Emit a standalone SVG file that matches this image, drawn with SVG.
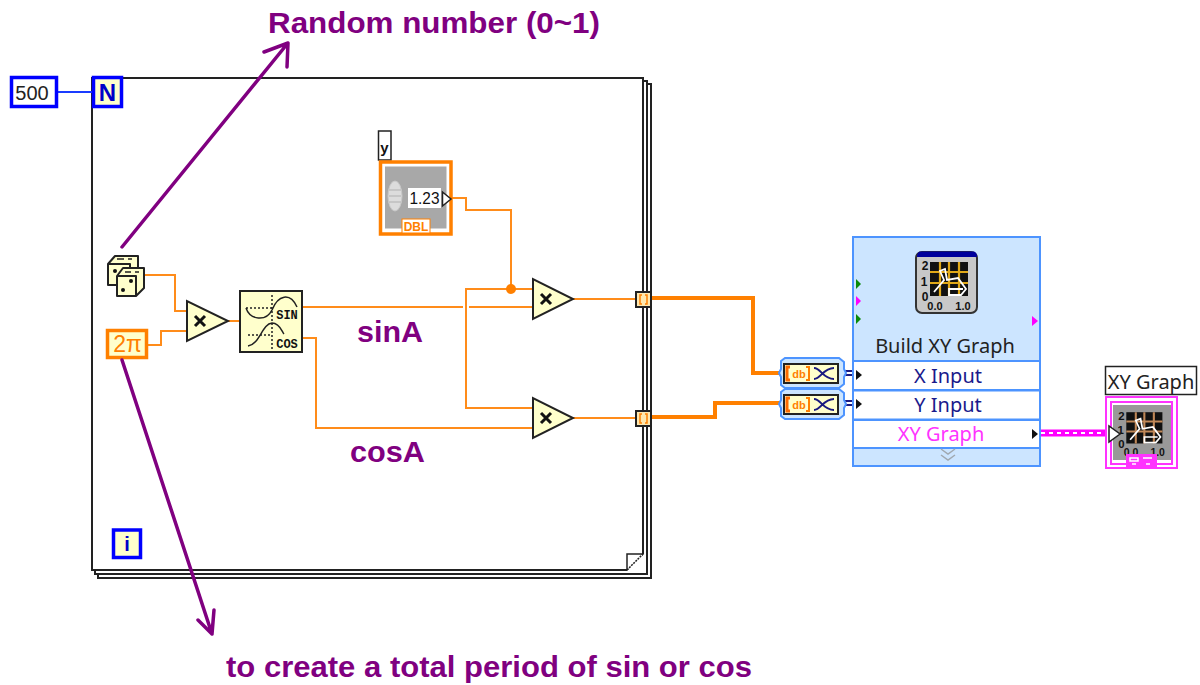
<svg xmlns="http://www.w3.org/2000/svg" width="1200" height="685" viewBox="0 0 1200 685">
<style>
text{font-family:"Liberation Sans",Arial,sans-serif}
.note{fill:#800080;font-weight:bold;font-size:30px}
.ui{font-family:"Noto Sans","Open Sans",sans-serif;font-size:20px;text-anchor:middle}
.w{fill:none;stroke:#ff8c1a;stroke-width:2}
.wt{fill:none;stroke:#ff8000;stroke-width:4}
.pa{fill:none;stroke:#800080;stroke-width:3.5;stroke-linecap:round;stroke-linejoin:round}
.mul{fill:#ffffcc;stroke:#222;stroke-width:2}
.x{fill:none;stroke:#111;stroke-width:3}
.fr{fill:#fff;stroke:#222;stroke-width:2}
.row{fill:#fff;stroke:#4d94ff;stroke-width:2}
.tun{fill:#ffe9b0;stroke:#222;stroke-width:2}
.dot{fill:none;stroke:#222;stroke-width:1.5;stroke-dasharray:2 2}
.arr{fill:#111}
.hex{fill:#cce5ff;stroke:#4d94ff;stroke-width:2}
.die{fill:#ffffcc;stroke:#222;stroke-width:2;stroke-linejoin:round}
.pip{fill:#111}
.dig{font-size:12px;font-weight:bold;text-anchor:middle;fill:#111}
</style>
<defs>
<g id="graphIcon">
<rect x="14" y="10" width="38" height="34" fill="#111"/>
<path d="M14 20H52M14 31H52M24 10V44M33 10V44M43 10V44" stroke="currentColor" stroke-width="2.200"/>
<path d="M18 40L28 28L24 19L29 17L31 28L42 26L50 37L45 43H33L33 37H47" fill="none" stroke="#fff" stroke-width="1.800"/>
<text class="dig" x="9" y="18">2</text>
<text class="dig" x="8" y="34">1</text>
<text class="dig" x="9" y="49">0</text>
<text class="dig" x="19" y="58" style="font-size:11px">0.0</text>
<text class="dig" x="47" y="58" style="font-size:11px">1.0</text>
</g>
<g id="a2m">
<path class="hex" d="M0 3L4 0H58L63 4V11L65 15L63 19V26L58 30H4L0 27V19L-2 15L0 11Z"/>
<rect x="3" y="6" width="54" height="19" fill="#ffffcc" stroke="#222" stroke-width="2"/>
<path d="M9 9H6V22H9" fill="none" stroke="#ff6a00" stroke-width="3"/>
<text x="18" y="20" font-size="11" font-weight="bold" fill="#ff8000" text-anchor="middle">db</text>
<path d="M25 9H28V22H25" fill="none" stroke="#ff8000" stroke-width="2"/>
<path d="M33 10C40 10 42 21 53 21M33 21C40 21 42 10 53 10" fill="none" stroke="#1a1a80" stroke-width="2"/>
</g>
</defs>
<rect width="1200" height="685" fill="#fff"/>

<g id="loop">
<rect class="fr" x="98" y="84" width="553" height="494"/>
<rect class="fr" x="95" y="81" width="552" height="493"/>
<rect class="fr" x="92" y="78" width="551" height="492"/>
<path d="M627 571L644 554V571Z" fill="#fff"/>
<path d="M627 570V554H643" fill="none" stroke="#222" stroke-width="1.500"/>
<path d="M627 570L643 554" fill="none" stroke="#222" stroke-width="1.500" stroke-dasharray="2 1"/>
</g>

<g id="connectors">
<path d="M58 92H92" fill="none" stroke="#1a3cff" stroke-width="2"/>
<path class="w" d="M145 275H175V311H187"/>
<path class="w" d="M148 345H161V331H187"/>
<path class="w" d="M228 321H240"/>
<path class="w" d="M302 307H463M469 307H533"/>
<path class="w" d="M302 338H316V428H533"/>
<path class="w" d="M533 289H466V408H533"/>
<path class="w" d="M452 198H466V210H511V289"/>
<circle cx="511" cy="289" r="5" fill="#ff8000"/>
<path class="w" d="M573 299H636"/>
<path class="w" d="M573 418H636"/>
<path class="wt" d="M652 298H753V373H781"/>
<path class="wt" d="M652 417H715V403H781"/>
<path d="M843 371H855M843 375H855M843 401H855M843 405H855" fill="none" stroke="#1a1a80" stroke-width="2"/>
<path d="M1041 433H1106" fill="none" stroke="#ff00ff" stroke-width="7"/>
<path d="M1041 433H1106" fill="none" stroke="#fff" stroke-width="2" stroke-dasharray="4 4"/>
</g>

<g id="count"><rect x="11.500" y="77.500" width="45" height="29" fill="#fff" stroke="#0000ff" stroke-width="3.500"/><text x="32" y="100" font-size="20" text-anchor="middle" fill="#222">500</text></g>
<g id="n"><rect x="93.500" y="77.500" width="28" height="29" fill="#ffffcc" stroke="#0000ff" stroke-width="3.500"/><text x="107.500" y="101" font-size="24" font-weight="bold" text-anchor="middle" fill="#0000c8">N</text></g>
<g id="iter"><rect x="113.500" y="530" width="27" height="27.500" fill="#ffffcc" stroke="#0000ff" stroke-width="3.500"/><text x="127" y="551" font-size="20" font-weight="bold" text-anchor="middle" fill="#0000c8">i</text></g>

<g id="dice">
<path class="die" d="M108 264L115 256H138V276L130 285H108Z"/>
<path class="die" d="M108 264H130V285"/>
<path d="M117 259H124M128 259H132" stroke="#222" stroke-width="1.500"/>
<path class="die" d="M117 276L123 268H144V288L136 296H117Z"/>
<path class="die" d="M117 276H136V296"/>
<path d="M125 272H131M135 272H139" stroke="#222" stroke-width="1.500"/>
<circle class="pip" cx="115" cy="271" r="2"/><circle class="pip" cx="131" cy="281" r="2"/><circle class="pip" cx="123" cy="290" r="2"/>
</g>
<g id="twopi"><rect x="107.500" y="330.500" width="39" height="27" fill="#ffffcc" stroke="#ff8000" stroke-width="3.500"/><text x="127.500" y="352" font-size="23" text-anchor="middle" fill="#ff8000">2π</text></g>
<g id="mul1"><path class="mul" d="M187 301V341L228 321Z"/><path class="x" d="M195 316L205 326M205 316L195 326"/></g>
<g id="sincos">
<rect x="240" y="291" width="62" height="61" fill="#ffffcc" stroke="#222" stroke-width="2"/>
<path class="dot" d="M246 308H272M272 295V349M248 335H272"/>
<path d="M246 308C250 320 266 322 272 310C278 295 290 292 297 307" fill="none" stroke="#222" stroke-width="1.500"/>
<path d="M248 346C260 344 262 324 272 323C280 323 282 332 284 334" fill="none" stroke="#222" stroke-width="1.500"/>
<text x="287" y="319" font-size="12" font-weight="bold" text-anchor="middle" fill="#111" style="font-family:'Liberation Mono',monospace">SIN</text>
<text x="287" y="348" font-size="12" font-weight="bold" text-anchor="middle" fill="#111" style="font-family:'Liberation Mono',monospace">COS</text>
</g>
<g id="control">
<rect x="378.500" y="131" width="12.500" height="29" fill="#fff" stroke="#222" stroke-width="1.500"/>
<text x="384.500" y="153" font-size="15" font-weight="bold" text-anchor="middle" fill="#111">y</text>
<rect x="380.500" y="162" width="70.500" height="72" fill="#fff" stroke="#ff8000" stroke-width="3.500"/>
<rect x="384.500" y="166" width="62.500" height="63" fill="#a8a8a8" stroke="#fff" stroke-width="1"/>
<ellipse cx="395" cy="196" rx="7" ry="15" fill="#dcdcdc" stroke="#c8c8c8"/>
<path d="M389 190H401M389 196H401M389 202H401" stroke="#b0b0b0"/>
<rect x="408" y="188" width="33" height="20" fill="#fff"/>
<text x="424.500" y="204" font-size="17" text-anchor="middle" fill="#111" textLength="30" lengthAdjust="spacingAndGlyphs">1.23</text>
<path d="M442.500 192V206L451 199Z" fill="#fff" stroke="#222" stroke-width="1.500"/>
<rect x="402" y="219" width="28" height="14" fill="#fff" stroke="#ff8000"/>
<text x="416" y="231" font-size="12" font-weight="bold" text-anchor="middle" fill="#ff8000">DBL</text>
</g>
<g id="mul2"><path class="mul" d="M533 279V319L573 299Z"/><path class="x" d="M541 294L551 304M551 294L541 304"/></g>
<g id="mul3"><path class="mul" d="M533 398V438L573 418Z"/><path class="x" d="M541 413L551 423M551 413L541 423"/></g>
<g id="tunnel1"><rect class="tun" x="636" y="292" width="15" height="15"/><path d="M642 295H640V304H642M645 295H647V304H645" fill="none" stroke="#ff8000" stroke-width="1.500"/></g>
<g id="tunnel2"><rect class="tun" x="636" y="411" width="15" height="15"/><path d="M642 414H640V423H642M645 414H647V423H645" fill="none" stroke="#ff8000" stroke-width="1.500"/></g>
<g id="a2m1"><use href="#a2m" x="781" y="358"/></g>
<g id="a2m2"><use href="#a2m" x="781" y="389"/></g>

<g id="build">
<rect x="853" y="237" width="187" height="229" fill="#cce5ff" stroke="#4d94ff" stroke-width="2"/>
<rect x="916" y="252" width="61" height="61" rx="6" fill="#c8c8c8" stroke="#333" stroke-width="2"/>
<g color="#e0a818"><use href="#graphIcon" x="916" y="252"/></g>
<path d="M917 257Q917 251.500 921 251.500H973Q977 251.500 977 257Z" fill="#00009c"/>
<path d="M856 279V289L861 284Z" fill="#0a8a0a"/><path d="M856 296V306L861 301Z" fill="#ff00ff"/><path d="M856 314V324L861 319Z" fill="#0a8a0a"/><path d="M1032 316V326L1038 321Z" fill="#ff00ff"/>
<text class="ui" x="945" y="353" fill="#222">Build XY Graph</text>
<rect class="row" x="853" y="361" width="187" height="29"/>
<rect class="row" x="853" y="390.500" width="187" height="29"/>
<rect class="row" x="853" y="420" width="187" height="28"/>
<path class="arr" d="M856 370V380L862 375Z"/><path class="arr" d="M856 399V409L862 404Z"/><path class="arr" d="M1032 429V439L1038 434Z"/>
<text class="ui" x="948" y="383" fill="#1a1a8c">X Input</text>
<text class="ui" x="948" y="412" fill="#1a1a8c">Y Input</text>
<text class="ui" x="941" y="441" fill="#ff33ff">XY Graph</text>
<path d="M941 449L948 454L955 449M941 455L948 460L955 455" fill="none" stroke="#a0a8b0" stroke-width="1.500"/>
</g>

<g id="xygraph">
<rect x="1105.500" y="366.500" width="91" height="28" fill="#fff" stroke="#222" stroke-width="1.500"/>
<text class="ui" x="1151" y="389" fill="#222">XY Graph</text>
<rect x="1106" y="397" width="71" height="71" fill="#fff" stroke="#ff33ff" stroke-width="2"/>
<rect x="1111" y="402" width="61" height="62" fill="#fff" stroke="#ff33ff" stroke-width="2"/>
<rect x="1113" y="405" width="58" height="55" fill="#999"/>
<g transform="translate(1113,403) scale(0.95,0.92)" color="#c08858"><use href="#graphIcon"/></g>
<path d="M1109 426V442L1120 434Z" fill="#fff" stroke="#222" stroke-width="1.500"/>
<rect x="1126" y="454" width="31" height="14" fill="#ff33ff"/>
<path d="M1130 458H1138V461H1130ZM1143 458H1152M1132 464H1136M1146 464H1150" fill="none" stroke="#fff" stroke-width="1.500"/>
</g>

<g id="notes">
<path class="pa" d="M122 247L288 43M264 52L288 43L287 67"/>
<path class="pa" d="M122 360L212 634M198 620L212 634L214 610"/>
<text class="note" x="268" y="33" textLength="332" lengthAdjust="spacingAndGlyphs">Random number (0~1)</text>
<text class="note" x="226" y="677" textLength="526" lengthAdjust="spacingAndGlyphs">to create a total period of sin or cos</text>
<text class="note" x="357" y="342" textLength="66" lengthAdjust="spacingAndGlyphs">sinA</text>
<text class="note" x="350" y="462" textLength="75" lengthAdjust="spacingAndGlyphs">cosA</text>
</g>
</svg>
